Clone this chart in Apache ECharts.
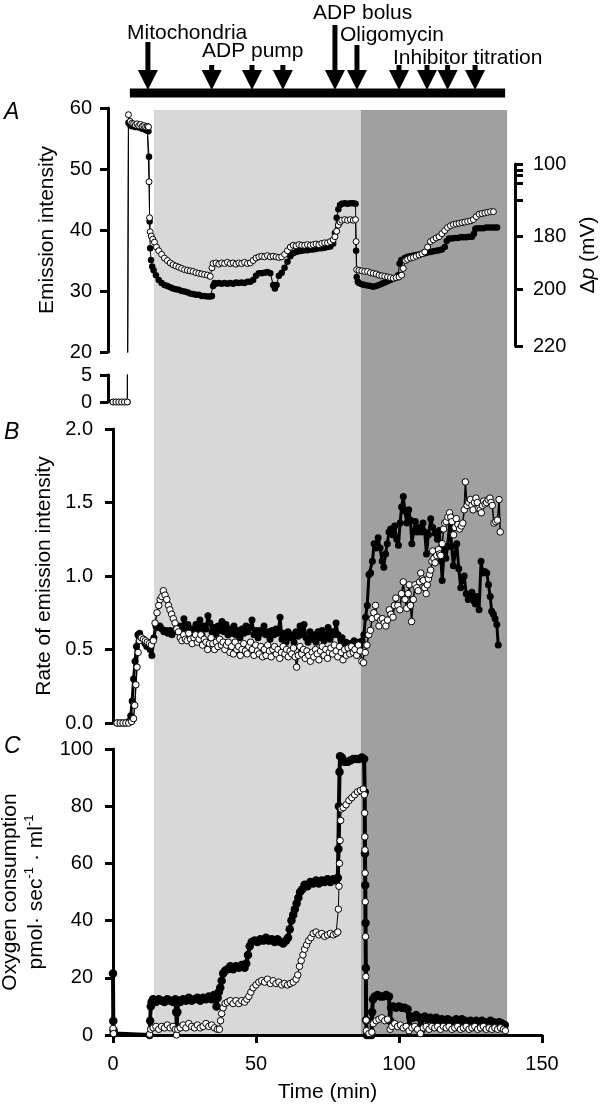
<!DOCTYPE html>
<html><head><meta charset="utf-8">
<script src="https://cdn.jsdelivr.net/npm/echarts@6/dist/echarts.min.js"></script>
<style>html,body{margin:0;padding:0;background:#fff}#c{width:603px;height:1106px}</style>
</head><body><div id="c"></div>
<script>
// ================= DATA =================
const timeTicks = [0, 50, 100, 150];
const eventLabels = ['Mitochondria', 'ADP pump', 'ADP bolus', 'Oligomycin', 'Inhibitor titration'];
const eventTimes = [12.2, 34.5, 48.6, 59.4, 77.6, 85.3, 100.0, 109.8, 117.0, 126.6];
const eventGroup = [0, 1, 1, 1, 2, 3, 4, 4, 4, 4];
const protocolSpan = [5.9, 137.1];
const lightPhase = [14.3, 86.7];
const darkPhase = [86.7, 137.8];
// Δp axis: tick values (mV) and the emission intensity each tick sits at
const dpTickValues = [100, 110, 120, 140, 160, 180, 200, 220];
const dpTickEmission = [50.8, 49.7, 48.9, 47.7, 44.9, 38.9, 30.3, 21.0];
const dpLabelled = [100, 180, 200, 220];

// Panel A: emission intensity [time (min), value]
const emissionOpen = [
[0,0],[1,0],[2,0],[3,0],[4,0],[5,0],[5.4,58.9],[6,57.8],[6.6,57.5],[7.2,57.4],[7.8,57.2],[8.4,57.4],[9,57.1],[9.6,57.3],[10.2,57.0],[10.8,57.1],[11.4,56.9],[12,57.0],[12.4,56.9],[12.6,47.9],[12.8,42.0],[13,39.7],[13.4,39],[13.9,38.5],[14.5,38],[15.2,37.2],[16,36.6],[17,36],[18,35.4],[19,35.0],[20,34.6],[21,34.3],[22,34.1],[23,33.9],[24,33.7],[25,33.5],[26,33.4],[27,33.3],[28,33.2],[29,33.0],[30,32.9],[31,32.8],[32,32.7],[33,32.6],[34,32.4],[34.6,33.8],[35,34.5],[36,34.6],[37,34.4],[38,34.6],[39,34.5],[40,34.7],[41,34.5],[42,34.6],[43,34.4],[44,34.6],[45,34.5],[46,34.7],[47,34.5],[48,34.6],[49,35.0],[50,35.4],[51,35.6],[52,35.7],[53,35.6],[54,35.8],[55,35.6],[56,35.7],[57,35.6],[58,35.5],[59,35.6],[60,36.0],[61,36.6],[62,37.2],[63,37.5],[64,37.4],[65,37.6],[66,37.5],[67,37.5],[68,37.6],[69,37.5],[70,37.6],[71,37.7],[72,37.6],[73,37.8],[74,37.9],[75,37.9],[76,38.1],[77,38.4],[77.6,38.9],[78.2,39.8],[78.8,40.8],[79.4,41.3],[80,41.6],[81,41.7],[82,41.6],[83,41.7],[84,41.6],[84.8,41.7],[85,38.1],[85.2,33.5],[86,33.4],[87,33.3],[88,33.2],[89,33.2],[90,33.0],[91,32.9],[92,32.8],[93,32.6],[94,32.5],[95,32.4],[96,32.3],[97,32.2],[98,32.1],[99,32.2],[100,32.3],[100.9,32.6],[101.5,33.7],[102.3,35.0],[103,35.2],[104,35.4],[105,35.5],[106,35.7],[107,35.9],[108,36.1],[109,36.4],[110,37.2],[111,38.1],[112,38.4],[113,38.7],[114,38.9],[115,39.4],[116,39.9],[117,40.4],[118,40.7],[119,40.9],[120,41.0],[121,41.1],[122,41.2],[123,41.3],[124,41.4],[125,41.5],[126,41.7],[127,42.2],[128,42.6],[129,42.7],[130,42.8],[131,42.9],[132,43.0],[133,43.0]
];
const emissionFilled = [
[0,0],[1,0],[2,0],[3,0],[4,0],[5,0],[5.4,57.6],[6,57.2],[6.6,57.0],[7.2,57.1],[7.8,56.9],[8.4,57.0],[9,56.8],[9.6,56.9],[10.2,56.6],[10.8,56.7],[11.4,56.4],[12,56.3],[12.4,56.2],[12.6,52.0],[12.8,41.4],[13,37.0],[13.3,35.1],[13.7,34.0],[14.2,33.4],[15,32.6],[16,31.8],[17,31.3],[18,31.0],[19,30.8],[20,30.6],[21,30.4],[22,30.3],[23,30.2],[24,30.0],[25,29.9],[26,29.8],[27,29.6],[28,29.5],[29,29.4],[30,29.4],[31,29.2],[32,29.2],[33,29.1],[34,29.1],[34.6,29.2],[35,30.8],[35.5,31.3],[36,31.2],[37,31.3],[38,31.2],[39,31.3],[40,31.2],[41,31.3],[42,31.2],[43,31.4],[44,31.3],[45,31.4],[46,31.3],[47,31.5],[48,31.5],[49,31.8],[50,32.5],[51,32.9],[52,32.9],[53,33.0],[54,33.1],[55,32.9],[56,31.0],[56.6,30.4],[57.2,31.0],[58,32.5],[59,33.0],[60,33.8],[61,34.8],[62,35.7],[63,36.2],[64,36.4],[65,36.5],[66,36.6],[67,36.7],[68,36.7],[69,36.8],[70,36.8],[71,36.9],[72,37.0],[73,37.0],[74,37.1],[75,37.2],[76,37.3],[77,37.8],[77.6,39.5],[78.2,42.0],[78.8,43.4],[79.4,44.1],[80,44.3],[81,44.4],[82,44.3],[83,44.4],[84,44.4],[84.8,44.3],[85,36.6],[85.2,32.3],[85.6,31.5],[86,31.3],[87,31.1],[88,31.0],[89,30.9],[90,30.8],[91,30.7],[92,30.8],[93,31.0],[94,31.2],[95,31.4],[96,31.6],[97,31.8],[98,32.0],[99,32.2],[99.7,32.6],[100.2,34.5],[100.8,35.1],[102,35.4],[103,35.6],[104,35.7],[105,35.8],[106,35.9],[107,36.0],[108,36.1],[109,36.2],[110,36.3],[111,36.4],[112,36.5],[113,36.6],[114,36.7],[115,36.8],[116,37.2],[116.7,38.2],[117.5,38.6],[118.5,38.6],[119.5,38.7],[120.5,38.7],[121.5,38.8],[122.5,38.8],[123.5,38.8],[124.5,38.9],[125.5,38.9],[126.2,39.4],[126.7,40.2],[127.5,40.3],[128.5,40.3],[129.5,40.3],[130.5,40.4],[131.5,40.4],[132.5,40.4],[133.5,40.4],[134.3,40.4]
];

// Panel B: rate of emission intensity [time (min), value]
const rateFilled = [
[1.4,0],[2.5,0],[3.5,0],[4.5,0],[5.5,0.01],[6.2,0.05],[6.7,0.15],[7.2,0.3],[7.7,0.42],[8.2,0.52],[8.7,0.6],[9.3,0.61],[9.9,0.58],[10.5,0.56],[11.2,0.54],[11.8,0.52],[12.4,0.55],[13.0,0.5],[13.6,0.46],[14.3,0.58],[15.0,0.66],[15.7,0.65],[16.4,0.66],[17.1,0.64],[17.8,0.62],[18.5,0.63],[19.2,0.61],[19.9,0.63],[20.6,0.6],[21.3,0.62],[22,0.64],[22.7,0.62],[23.4,0.66],[24.1,0.62],[24.8,0.71],[25.5,0.65],[26.2,0.67],[26.9,0.6],[27.6,0.64],[28.3,0.62],[29,0.67],[29.7,0.63],[30.4,0.7],[31.1,0.6],[31.8,0.66],[32.5,0.64],[33.2,0.73],[33.9,0.68],[34.6,0.62],[35.3,0.65],[36,0.6],[36.7,0.66],[37.4,0.63],[38.1,0.69],[38.8,0.62],[39.5,0.67],[40.2,0.6],[40.9,0.64],[41.6,0.61],[42.3,0.66],[43,0.6],[43.7,0.63],[44.4,0.58],[45.1,0.64],[45.8,0.61],[46.5,0.66],[47.2,0.62],[47.9,0.65],[48.6,0.7],[49.3,0.6],[50,0.63],[50.7,0.58],[51.4,0.63],[52.1,0.61],[52.8,0.66],[53.5,0.6],[54.2,0.62],[54.9,0.57],[55.6,0.63],[56.3,0.6],[57,0.64],[57.7,0.61],[58.4,0.72],[59.1,0.57],[59.8,0.61],[60.5,0.55],[61.2,0.62],[61.9,0.58],[62.6,0.6],[63.3,0.55],[64,0.62],[64.7,0.59],[65.4,0.66],[66.1,0.6],[66.8,0.67],[67.5,0.58],[68.2,0.55],[68.9,0.62],[69.6,0.57],[70.3,0.6],[71,0.55],[71.7,0.62],[72.4,0.58],[73.1,0.63],[73.8,0.56],[74.5,0.6],[75.2,0.65],[75.9,0.57],[76.6,0.62],[77.3,0.6],[78,0.68],[78.7,0.6],[79.4,0.52],[80.1,0.58],[80.8,0.48],[81.5,0.55],[82.2,0.47],[82.9,0.54],[83.6,0.5],[84.3,0.56],[85,0.5],[85.7,0.55],[86.4,0.52],[87.1,0.56],[87.7,0.6],[88.3,0.72],[88.9,0.8],[89.5,1.01],[90.1,1.02],[90.7,1.1],[91.3,1.22],[92,1.19],[92.7,1.26],[93.4,1.19],[94.1,1.1],[94.7,1.06],[95.3,1.15],[95.9,1.22],[96.5,1.3],[97.1,1.32],[97.8,1.28],[98.5,1.34],[99.2,1.25],[99.8,1.21],[100.4,1.36],[100.9,1.47],[101.5,1.54],[102.1,1.44],[102.7,1.36],[103.4,1.45],[104,1.38],[104.5,1.22],[105.1,1.3],[105.7,1.37],[106.4,1.3],[107.1,1.33],[107.8,1.3],[108.4,1.36],[109,1.3],[109.6,1.15],[110.3,1.28],[111.1,1.39],[111.8,1.33],[112.6,1.29],[113.4,1.25],[114.1,1.31],[114.7,1.1],[115.1,0.97],[115.8,1.18],[116.4,1.12],[117,1.2],[117.8,1.38],[118.4,1.2],[119,1.07],[119.6,1.15],[120.2,1.22],[120.9,1.05],[121.6,0.92],[122.2,0.97],[122.8,1.0],[123.5,0.88],[124.2,0.84],[124.9,0.87],[125.5,0.89],[126.2,0.83],[126.7,0.81],[127.3,0.86],[128,0.77],[128.7,1.1],[129.3,1.02],[130,1.03],[130.7,1.02],[131.3,0.94],[131.9,0.86],[132.4,0.76],[133,0.74],[133.6,0.71],[134.2,0.67],[134.7,0.53]
];
const rateOpen = [
[1.4,0],[2.5,0],[3.5,0],[4.5,0],[5.5,0],[6.5,0.01],[7.2,0.03],[7.6,0.12],[8,0.26],[8.4,0.38],[8.8,0.48],[9.3,0.56],[9.9,0.58],[10.6,0.57],[11.3,0.56],[12,0.55],[12.7,0.54],[13.4,0.53],[14.1,0.56],[14.7,0.68],[15.4,0.75],[16,0.8],[16.5,0.84],[17.1,0.86],[17.6,0.9],[18.2,0.87],[18.8,0.84],[19.4,0.8],[19.9,0.77],[20.5,0.74],[21.1,0.71],[21.7,0.68],[22.3,0.64],[22.9,0.62],[23.5,0.58],[24.1,0.56],[24.7,0.6],[25.3,0.57],[25.9,0.56],[26.5,0.61],[27.1,0.57],[27.7,0.54],[28.3,0.58],[28.9,0.6],[29.5,0.55],[30.1,0.57],[30.7,0.6],[31.3,0.53],[31.9,0.57],[32.5,0.55],[33.1,0.5],[33.7,0.54],[34.3,0.58],[34.9,0.54],[35.5,0.5],[36.1,0.55],[36.7,0.52],[37.3,0.57],[37.9,0.53],[38.5,0.55],[39.1,0.5],[39.7,0.53],[40.3,0.55],[40.9,0.48],[41.5,0.52],[42.1,0.47],[42.7,0.55],[43.3,0.5],[43.9,0.52],[44.5,0.46],[45.1,0.5],[45.7,0.54],[46.3,0.49],[46.9,0.47],[47.5,0.52],[48.1,0.55],[48.7,0.5],[49.3,0.46],[49.9,0.53],[50.5,0.49],[51.1,0.47],[51.7,0.52],[52.3,0.45],[52.9,0.5],[53.5,0.46],[54.1,0.53],[54.7,0.49],[55.3,0.45],[55.9,0.5],[56.5,0.52],[57.1,0.47],[57.7,0.5],[58.3,0.44],[58.9,0.48],[59.5,0.52],[60.1,0.47],[60.7,0.5],[61.3,0.45],[61.9,0.49],[62.5,0.47],[63.1,0.51],[63.7,0.45],[64.2,0.38],[64.8,0.46],[65.4,0.52],[66,0.47],[66.6,0.5],[67.2,0.44],[67.8,0.49],[68.4,0.46],[69,0.42],[69.6,0.48],[70.2,0.45],[70.8,0.5],[71.4,0.47],[72,0.43],[72.6,0.49],[73.2,0.52],[73.8,0.46],[74.4,0.5],[75,0.44],[75.6,0.48],[76.2,0.51],[76.8,0.47],[77.4,0.53],[78,0.49],[78.6,0.45],[79.2,0.52],[79.8,0.48],[80.4,0.43],[81,0.5],[81.6,0.46],[82.2,0.51],[82.8,0.47],[83.4,0.52],[84,0.48],[84.6,0.5],[85.2,0.46],[85.8,0.53],[86.4,0.49],[87,0.42],[87.6,0.41],[88.2,0.48],[88.8,0.53],[89.4,0.6],[90.0,0.63],[90.6,0.71],[91.2,0.75],[91.8,0.8],[92.4,0.72],[93.0,0.66],[93.6,0.7],[94.2,0.71],[94.8,0.68],[95.4,0.66],[96.0,0.7],[96.6,0.77],[97.2,0.74],[97.9,0.72],[98.4,0.8],[98.9,0.85],[99.6,0.8],[100.3,0.77],[100.9,0.88],[101.5,0.96],[102.1,0.84],[102.7,0.78],[103.2,0.88],[103.6,0.94],[104,0.8],[104.4,0.69],[105,0.84],[105.6,0.94],[106.2,0.92],[106.7,0.9],[107.2,0.96],[107.6,1.02],[108.1,0.98],[108.5,0.97],[109,0.92],[109.5,0.88],[109.9,0.94],[110.3,0.98],[110.7,1.01],[111.1,1.04],[111.5,1.1],[111.8,1.17],[112.2,1.12],[112.6,1.09],[113.2,1.14],[113.8,1.18],[114.2,1.15],[114.6,1.14],[115.1,1.22],[115.6,1.32],[116,1.36],[116.5,1.37],[117.1,1.4],[117.7,1.43],[118.1,1.4],[118.5,1.37],[119.1,1.28],[119.6,1.33],[120,1.39],[120.6,1.35],[121.2,1.32],[121.8,1.34],[122.3,1.36],[122.8,1.45],[123.2,1.64],[123.8,1.48],[124.4,1.5],[125,1.52],[125.5,1.48],[125.9,1.45],[126.4,1.5],[126.9,1.53],[127.4,1.5],[127.9,1.46],[128.4,1.45],[128.8,1.43],[129.2,1.48],[129.6,1.51],[130.1,1.49],[130.6,1.5],[131.2,1.52],[131.8,1.53],[132.2,1.5],[132.6,1.48],[133.2,1.36],[133.8,1.37],[134.4,1.38],[135.0,1.52],[135.4,1.30]
];

// Panel C: oxygen consumption [time (min), value]
const oxygenFilled = [
[0,21.5],[0.1,4.9],[0.2,1.7],[0.3,0.5],[12.8,0],[13,5],[13.2,10],[13.5,11.5],[14,12.5],[15,11.5],[16,12.5],[17,12],[18,11.5],[19,12.5],[20,12],[21,11.5],[21.8,12.5],[22.1,8],[22.3,3],[22.5,8],[22.8,12],[23.5,11.5],[24.5,12.5],[25.5,12],[26.5,13],[27.5,12],[28.5,12.5],[29.5,13],[30.5,12],[31.5,13],[32.5,12.5],[33.5,13.5],[34.5,12.5],[35.3,14],[35.8,13],[36.2,10],[36.6,13],[37,15],[37.5,16.5],[38,19],[38.5,21.5],[39.2,22.5],[40,23],[41,24],[42,23],[43,24],[44,23.5],[45,24.5],[46,23.5],[46.6,25],[47.2,28],[47.8,31],[48.5,32.5],[49.5,33],[50.5,32.5],[51.5,33.5],[52.5,33],[53.5,34],[54.5,33],[55.5,33.5],[56.5,32.5],[57.5,33.5],[58.5,32.5],[59.5,32],[60.5,33],[61.2,34],[61.8,37],[62.4,40],[63,42],[63.6,44],[64.2,46],[64.8,48],[65.4,50],[66.2,51],[67,52.5],[68,52],[69,53.5],[70,53],[71,54],[72,53],[73,54],[74,53.5],[75,54.5],[76,53.5],[77,54.5],[78,54],[78.6,55],[78.8,65],[79,80],[79.2,92],[79.4,97.5],[80,97],[81,95.5],[82,95.5],[83,96],[84,96.5],[85,96.5],[86,96.5],[87,97],[87.8,96.5],[88,85],[88.1,63.5],[88.2,52.4],[88.3,39.2],[88.4,23.4],[88.5,5.2],[88.7,0],[89.5,0],[90.4,0],[90.6,8],[90.9,12.5],[91.5,13.5],[92.5,14],[93.5,13.5],[94.5,13.5],[95.5,14],[96.5,13.5],[96.9,5],[97.2,9.5],[98,10],[99,9.5],[100,10],[101,9.5],[102,9.5],[103,9],[103.6,3],[104,6.5],[105,6],[106,7],[107,6],[107.7,1.5],[108.2,6],[109,6.5],[110,5.5],[111,6],[112,5],[113,6],[114,5],[115,5.5],[116,4.5],[117,5.5],[118,5],[119,4.5],[120,5.5],[121,4.5],[122,5.5],[123,5],[124,4],[125,5],[126,4.5],[127,5],[128,4],[129,5],[130,4.5],[131,4],[132,5],[133,4.5],[134,4],[135,4.5],[136,4],[137,3.5]
];
const oxygenOpen = [
[0,2.3],[0.2,0.5],[12.8,0.3],[13.2,2],[14,2.5],[15,3],[16,2],[17,3],[18,2.5],[19,3.5],[20,2.5],[21,3],[21.8,2],[22.2,0],[22.6,2],[23.5,2.5],[24.5,3.5],[25.5,2.5],[26.5,4],[27.5,3],[28.5,2.5],[29.5,3.5],[30.5,2.5],[31.5,3],[32.5,4],[33.5,3],[34.5,3.5],[35.5,2.5],[36.5,2],[37.2,2],[37.6,5],[38,7.5],[38.5,9.5],[39.2,11],[40,11.5],[41,12],[42,11],[43,12],[44,11],[45,12],[46,11.5],[46.8,12.5],[47.5,13.5],[48.2,15],[49,16.5],[50,17.5],[51,18.5],[52,19],[53,18.5],[54,19.5],[55,18],[56,19],[57,18],[58,18.5],[59,17.5],[60,18],[61,17.5],[62,18],[63,18.5],[64,19.5],[64.6,21],[65.2,24],[65.8,26],[66.4,28],[67,30],[67.7,31.5],[68.4,33],[69.2,34],[70,35.5],[71,36],[72,35],[73,35.5],[74,34.5],[75,35],[76,35.5],[77,35],[78,35.5],[78.6,36],[78.8,44],[79,52],[79.2,60],[79.4,68],[79.6,75],[79.8,79],[80.5,79.5],[81.5,80.5],[82.5,82],[83.5,83],[84.5,84],[85.5,85],[86.5,85.5],[87.5,86],[87.9,84],[88,77.6],[88.05,69.3],[88.1,64.7],[88.15,56.6],[88.2,46.6],[88.3,34.4],[88.4,20.4],[88.5,5.2],[88.6,1.5],[89.5,0.5],[90.5,1],[91,4],[92,5],[93,5.5],[94,6],[95,5],[96,5.5],[96.9,2],[97.5,3],[98.5,4],[99.5,3],[100.5,3.5],[101.5,2.5],[102.5,3],[103.5,1.5],[104.5,2.5],[105.5,3],[106.5,2],[107.5,0.5],[108.5,2.5],[109.5,3],[110.5,2],[111.5,3],[112.5,2.5],[113.5,3],[114.5,2],[115.5,3],[116.5,2.5],[117.5,3],[118.5,2],[119.5,2.5],[120.5,3],[121.5,2],[122.5,2.5],[123.5,3],[124.5,2],[125.5,2.5],[126.5,3],[127.5,2],[128.5,2.5],[129.5,3],[130.5,2],[131.5,2.5],[132.5,2],[133.5,2.5],[134.5,2],[135.5,2.5],[136.5,2],[137.2,1.5]
];

// ================= LAYOUT / STYLE =================
const FONT = '"Liberation Sans", Arial, Helvetica, sans-serif';
const arrowTailTop = [42, 65, 25, 45, 65];   // px, per label group
const labelPos = [[127, 23], [202, 41], [313, 3], [340, 25], [393, 48]]; // px, text top
const plotL = 113, plotR = 61;

const chart = echarts.init(document.getElementById('c'), null, {renderer: 'canvas'});

const hiddenX = (gi) => ({type: 'value', gridIndex: gi, min: 0, max: 150, show: false});
const axisStyle = {onZero: false, lineStyle: {color: '#000', width: 3}};
const tickStyle = {show: true, length: 8, lineStyle: {color: '#000', width: 3}};
const labelStyle = (m) => ({color: '#000', fontSize: 20, fontFamily: FONT, margin: m});

function filledSeries(xi, yi, data, size, lw) {
  return {type: 'line', xAxisIndex: xi, yAxisIndex: yi, data: data, symbol: 'circle', symbolSize: size,
    showAllSymbol: true, clip: true, z: 3,
    itemStyle: {color: '#000'}, lineStyle: {color: '#000', width: lw}, emphasis: {disabled: true}};
}
function openSeries(xi, yi, data, size, lw) {
  return {type: 'line', xAxisIndex: xi, yAxisIndex: yi, data: data, symbol: 'circle', symbolSize: size,
    showAllSymbol: true, clip: true, z: 4,
    itemStyle: {color: '#fff', borderColor: '#000', borderWidth: 1}, lineStyle: {color: '#000', width: lw}, emphasis: {disabled: true}};
}

const option = {
  animation: false,
  backgroundColor: '#fff',
  textStyle: {fontFamily: FONT},
  grid: [
    {left: plotL, right: plotR, top: 110, height: 924, outerBoundsMode: 'none'},   // 0 background phases
    {left: plotL, right: plotR, top: 0, height: 100, outerBoundsMode: 'none'},     // 1 protocol arrows
    {left: plotL, right: plotR, top: 108, height: 244, outerBoundsMode: 'none'},   // 2 A upper
    {left: plotL, right: plotR, top: 375, height: 27, outerBoundsMode: 'none'},    // 3 A lower
    {left: plotL, right: 88, top: 164, height: 182, outerBoundsMode: 'none'},      // 4 delta p axis
    {left: plotL, right: plotR, top: 429, height: 294, outerBoundsMode: 'none'},   // 5 B
    {left: plotL, right: plotR, top: 749, height: 286, outerBoundsMode: 'none'}    // 6 C
  ],
  xAxis: [
    hiddenX(0), hiddenX(1), hiddenX(2), hiddenX(3), hiddenX(4), hiddenX(5),
    {type: 'value', gridIndex: 6, min: timeTicks[0], max: timeTicks[timeTicks.length - 1], interval: 50,
      axisLine: axisStyle, axisTick: tickStyle, splitLine: {show: false},
      axisLabel: labelStyle(19),
      name: 'Time (min)', nameLocation: 'middle', nameGap: 47,
      nameTextStyle: {color: '#000', fontSize: 21, fontFamily: FONT}}
  ],
  yAxis: [
    {type: 'value', gridIndex: 0, min: 0, max: 1, show: false},
    {type: 'value', gridIndex: 1, min: 0, max: 100, show: false},
    {type: 'value', gridIndex: 2, min: 20, max: 60, interval: 10, offset: 5,
      axisLine: {show: true, ...axisStyle}, axisTick: tickStyle, splitLine: {show: false},
      axisLabel: labelStyle(16),
      name: 'Emission intensity', nameLocation: 'middle', nameRotate: 90, nameGap: 50,
      nameTextStyle: {color: '#000', fontSize: 21, fontFamily: FONT}},
    {type: 'value', gridIndex: 3, min: 0, max: 5, interval: 5, offset: 5,
      axisLine: {show: true, ...axisStyle}, axisTick: tickStyle, splitLine: {show: false},
      axisLabel: labelStyle(16)},
    {type: 'value', gridIndex: 4, position: 'right',
      min: dpTickEmission[dpTickEmission.length - 1], max: dpTickEmission[0],
      axisLine: {show: true, ...axisStyle},
      axisTick: {show: true, length: 8, lineStyle: {color: '#000', width: 3}, customValues: dpTickEmission},
      axisLabel: {...labelStyle(18), customValues: dpTickEmission.filter((e, i) => dpLabelled.includes(dpTickValues[i])),
        formatter: (v) => { const i = dpTickEmission.findIndex(e => Math.abs(e - v) < 1e-6); return i >= 0 ? String(dpTickValues[i]) : ''; }},
      splitLine: {show: false},
      name: '{n|Δ}{i|p}{n| (mV)}', nameLocation: 'middle', nameRotate: 90, nameGap: 62,
      nameTextStyle: {color: '#000', fontSize: 21, fontFamily: FONT,
        rich: {n: {fontSize: 21, fontFamily: FONT, color: '#000'}, i: {fontSize: 21, fontStyle: 'italic', fontFamily: FONT, color: '#000'}}}},
    {type: 'value', gridIndex: 5, min: 0, max: 2, interval: 0.5,
      axisLine: {show: true, ...axisStyle}, axisTick: tickStyle, splitLine: {show: false},
      axisLabel: {...labelStyle(20), formatter: (v) => v.toFixed(1)},
      name: 'Rate of emission intensity', nameLocation: 'middle', nameRotate: 90, nameGap: 58,
      nameTextStyle: {color: '#000', fontSize: 21, fontFamily: FONT}},
    {type: 'value', gridIndex: 6, min: 0, max: 100, interval: 20,
      axisLine: {show: true, ...axisStyle}, axisTick: tickStyle, splitLine: {show: false},
      axisLabel: labelStyle(20),
      name: '{a|Oxygen consumption}\n{b|pmol· sec}{s|-1}{b| · ml}{s|-1}', nameLocation: 'middle', nameRotate: 90, nameGap: 50,
      nameTextStyle: {color: '#000', fontSize: 21, fontFamily: FONT, lineHeight: 26,
        rich: {a: {fontSize: 21, fontFamily: FONT, color: '#000', lineHeight: 26},
               b: {fontSize: 21, fontFamily: FONT, color: '#000', lineHeight: 26},
               s: {fontSize: 13, fontFamily: FONT, color: '#000', verticalAlign: 'top', lineHeight: 26}}}}
  ],
  series: [
    // phase shading
    {type: 'line', xAxisIndex: 0, yAxisIndex: 0, data: [[0, -1]], symbol: 'none', z: -1, silent: true,
      lineStyle: {opacity: 0},
      markArea: {silent: true, z: -1, data: [
        [{xAxis: lightPhase[0], itemStyle: {color: '#d8d8d8'}}, {xAxis: lightPhase[1]}],
        [{xAxis: darkPhase[0], itemStyle: {color: '#a0a0a0'}}, {xAxis: darkPhase[1]}]
      ]}},
    // protocol bar
    {type: 'line', xAxisIndex: 1, yAxisIndex: 1, data: [[protocolSpan[0], 7], [protocolSpan[1], 7]],
      symbol: 'none', lineStyle: {color: '#000', width: 9, cap: 'butt'}, silent: true},
    // protocol arrows
    {type: 'custom', xAxisIndex: 1, yAxisIndex: 1, silent: true,
      data: eventTimes.map((t, i) => [t, eventGroup[i]]),
      renderItem: function (params, api) {
        const x = api.coord([api.value(0), 0])[0];
        const tail = arrowTailTop[api.value(1)];
        const tip = 90, headH = 20, headW = 10, shaftW = 5;
        return {type: 'group', children: [
          {type: 'rect', shape: {x: x - shaftW / 2, y: tail, width: shaftW, height: tip - headH - tail + 1}, style: {fill: '#000'}},
          {type: 'polygon', shape: {points: [[x - headW, tip - headH], [x + headW, tip - headH], [x, tip]]}, style: {fill: '#000'}}
        ]};
      }},
    // Panel A upper and lower
    filledSeries(2, 2, emissionFilled, 6.5, 1),
    openSeries(2, 2, emissionOpen, 6, 1),
    filledSeries(3, 3, emissionFilled, 6.5, 1),
    openSeries(3, 3, emissionOpen, 6, 1),
    // Panel B
    filledSeries(5, 5, rateFilled, 7, 3),
    openSeries(5, 5, rateOpen, 6.5, 1.5),
    // Panel C
    filledSeries(6, 6, oxygenFilled, 8.5, 4),
    openSeries(6, 6, oxygenOpen, 6.5, 1)
  ],
  graphic: [
    ...eventLabels.map((s, i) => ({type: 'text', silent: true, style: {text: s, x: labelPos[i][0], y: labelPos[i][1],
      fill: '#000', font: '21px ' + FONT, verticalAlign: 'top'}})),
    {type: 'text', silent: true, style: {text: 'A', x: 4, y: 101, fill: '#000', font: 'italic 23px ' + FONT, verticalAlign: 'top'}},
    {type: 'text', silent: true, style: {text: 'B', x: 4, y: 421, fill: '#000', font: 'italic 23px ' + FONT, verticalAlign: 'top'}},
    {type: 'text', silent: true, style: {text: 'C', x: 4, y: 735, fill: '#000', font: 'italic 23px ' + FONT, verticalAlign: 'top'}}
  ]
};
chart.setOption(option);
</script>
</body></html>
